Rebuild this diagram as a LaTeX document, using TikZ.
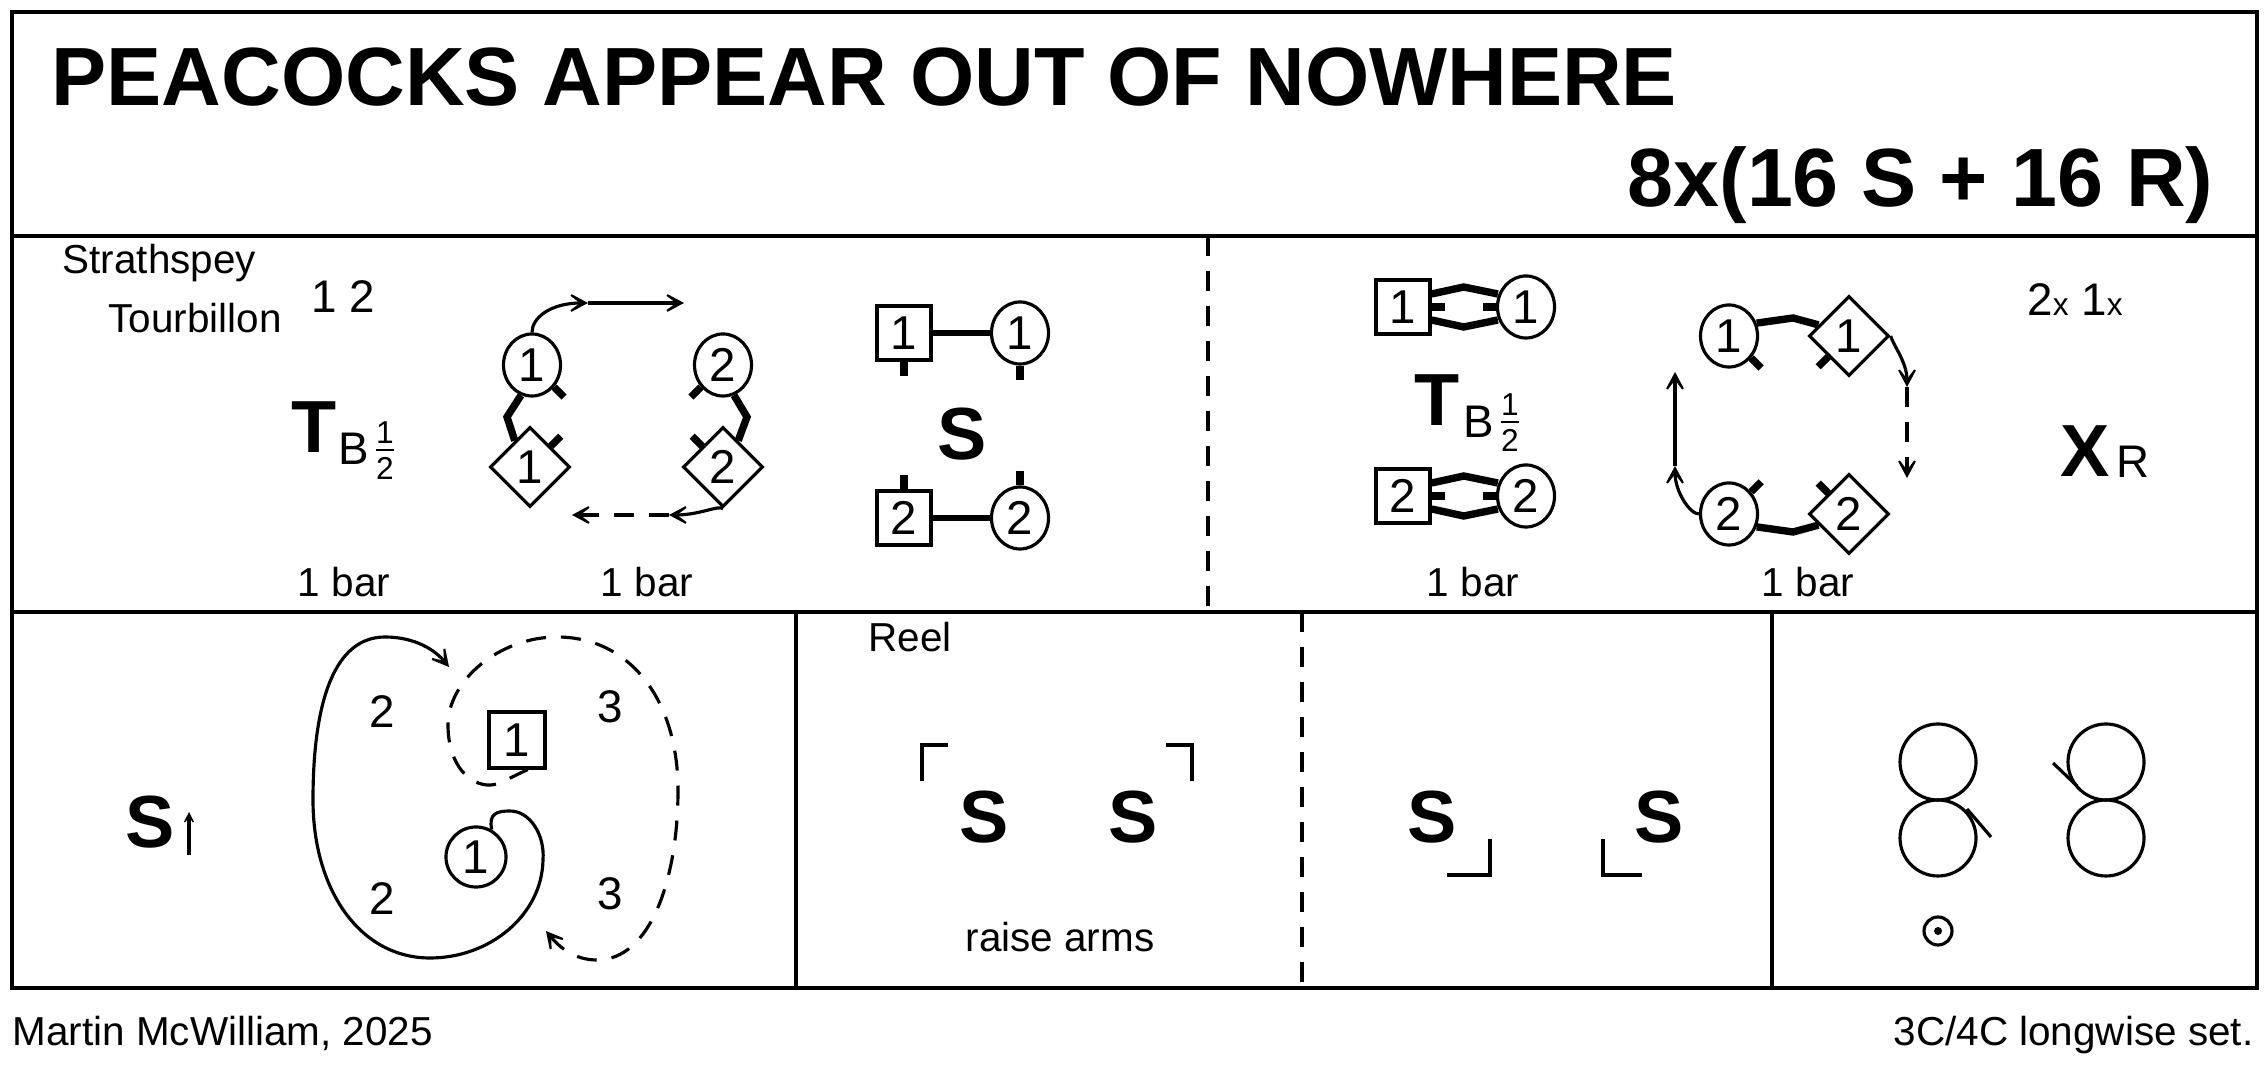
\documentclass[tikz,border=0pt]{standalone}
\usepackage{fontspec}
\setmainfont{Liberation Sans}
\usetikzlibrary{arrows.meta,shapes.geometric,calc}
\begin{document}
\begin{tikzpicture}[x=0.01cm,y=-0.01cm,
  frame/.style={line width=1pt},
  txt/.style={font=\fontsize{11.5}{13}\selectfont, inner sep=0pt},
  big/.style={font=\fontsize{21}{21}\selectfont\bfseries, inner sep=0pt},
  num/.style={font=\fontsize{13}{13}\selectfont, inner sep=0pt},
  frac/.style={font=\fontsize{9}{9}\selectfont, inner sep=0pt},
  dc/.style={ellipse, draw, line width=0.9pt, minimum width=5.7mm, minimum height=6.2mm, inner sep=0pt, font=\fontsize{13.5}{13.5}\selectfont},
  ds/.style={rectangle, draw, line width=0.9pt, minimum size=5.4mm, inner sep=0pt, font=\fontsize{13.5}{13.5}\selectfont},
  dd/.style={diamond, draw, line width=0.9pt, minimum size=8mm, inner sep=0pt, font=\fontsize{13.5}{13.5}\selectfont},
  conn/.style={line width=0.9pt},
  arr/.style={conn, -{Stealth[length=2.8mm,width=3mm,inset=2mm]}},
  hand/.style={line width=2.1pt},
  tick/.style={line width=2.1pt},
  dsh/.style={dash pattern=on 2mm off 1.5mm}
]
\useasboundingbox (0,0) rectangle (2267,1071);
% frame
\draw[frame] (12,12) rectangle (2257,988);
\draw[frame] (12,236) -- (2257,236);
\draw[frame] (12,612) -- (2257,612);
\draw[frame,dsh] (1208,236) -- (1208,612);
\draw[frame] (796,612) -- (796,988);
\draw[frame,dsh] (1302,612) -- (1302,988);
\draw[frame] (1772,612) -- (1772,988);
% title
\node[anchor=base west, inner sep=0pt, font=\fontsize{23.5}{24}\selectfont\bfseries] (title) at (51,106) {PEACOCKS APPEAR OUT OF NOWHERE};
\node[anchor=base east, inner sep=0pt, font=\fontsize{23.5}{24}\selectfont\bfseries] (form) at (2214,207) {8x(16 S + 16 R)};
\node[txt, anchor=base west] (auth) at (12,1045) {Martin McWilliam, 2025};
\node[txt, anchor=base east] (set) at (2254,1045) {3C/4C longwise set.};
% top left panel
\node[txt, anchor=west] (strath) at (62,263) {Strathspey};
\node[txt, anchor=west] (tourb) at (108,318) {Tourbillon};
\node[num] (ot) at (343,297) {1 2};
\node[big] (T1) at (314,427) {T};
\node[num] (B1) at (354,449) {B};
\node[frac] (f1a) at (385,433) {1};
\node[frac] (f1b) at (385,468) {2};
\draw[line width=0.6pt] (376,450) -- (394,450);
\node[txt] (bar1) at (344,582) {1 bar};
% diagram 2
\node[dc] (c1) at (532,365) {1};
\node[dc] (c2) at (723,365) {2};
\node[dd] (d1) at (530,467) {1};
\node[dd] (d2) at (723,467) {2};
\draw[hand] (c1.250) -- (507,417) -- (d1.120);
\draw[hand] (c2.290) -- (747,417) -- (d2.60);
\draw[tick] (c1.-45) -- ++(10,10);
\draw[tick] (d1.45) -- ++(10,-10);
\draw[tick] (c2.225) -- ++(-10,10);
\draw[tick] (d2.135) -- ++(-10,-10);
\coordinate (a1) at (588,303);
\coordinate (a2) at (684,303);
\draw[arr] (c1.north) .. controls (532,318) and (550,303) .. (a1);
\draw[arr] (a1) -- (a2);
\coordinate (b1) at (669,515);
\coordinate (b2) at (572,515);
\draw[arr] (d2.south) .. controls (718,505) and (700,515) .. (b1);
\draw[arr,dsh] (b1) -- (b2);
\node[txt] (bar2) at (647,582) {1 bar};
% diagram 3
\node[ds] (s1) at (904,333) {1};
\node[dc] (e1s) at (1020,333) {1};
\node[big] (S1) at (962,434) {S};
\node[ds] (s2) at (904,518) {2};
\node[dc] (e2s) at (1020,518) {2};
\draw[line width=1.7pt] (s1.east) -- (e1s.west);
\draw[line width=1.7pt] (s2.east) -- (e2s.west);
\draw[tick] (s1.south) -- ++(0,14);
\draw[tick] (e1s.south) -- ++(0,14);
\draw[tick] (s2.north) -- ++(0,-14);
\draw[tick] (e2s.north) -- ++(0,-14);
% top right panel
\node[ds] (sA) at (1403,307) {1};
\node[dc] (cA) at (1526,307) {1};
\node[ds] (sB) at (1403,496) {2};
\node[dc] (cB) at (1526,496) {2};
\foreach \s/\c in {sA/cA,sB/cB}{
  \draw[hand] ($(\s.east)+(0,-13)$) -- ($(\s.east)!0.5!(\c.west)+(0,-20)$) -- ($(\c.west)+(2,-13)$);
  \draw[hand] ($(\s.east)+(0,13)$) -- ($(\s.east)!0.5!(\c.west)+(0,20)$) -- ($(\c.west)+(2,13)$);
  \draw[hand] (\s.east) -- ++(13,0);
  \draw[hand] (\c.west) -- ++(-13,0);
}
\node[big] (T2) at (1437,400) {T};
\node[num] (B2) at (1479,422) {B};
\node[frac] (f2a) at (1510,405) {1};
\node[frac] (f2b) at (1510,440) {2};
\draw[line width=0.6pt] (1501,422) -- (1519,422);
\node[txt] (bar3) at (1473,582) {1 bar};
% diagram right
\node[dc] (g1) at (1729,336) {1};
\node[dd] (h1) at (1849,336) {1};
\node[dc] (g2) at (1729,514) {2};
\node[dd] (h2) at (1849,514) {2};
\draw[hand] (g1.25) -- (1793,318) -- (h1.160);
\draw[hand] (g2.-25) -- (1793,532) -- (h2.-160);
\draw[tick] (g1.-45) -- ++(10,10);
\draw[tick] (h1.225) -- ++(-10,10);
\draw[tick] (g2.45) -- ++(10,-10);
\draw[tick] (h2.135) -- ++(-10,-10);
\coordinate (r1) at (1907,387);
\coordinate (r2) at (1907,478);
\draw[arr] (h1.east) .. controls (1893,345) and (1907,362) .. (r1);
\draw[arr,dsh] (r1) -- (r2);
\coordinate (l1) at (1675,466);
\coordinate (l2) at (1675,372);
\draw[arr] (g2.west) .. controls (1690,514) and (1675,492) .. (l1);
\draw[arr] (l1) -- (l2);
\node[txt] (bar4) at (1808,582) {1 bar};
\node[num] (xx) at (2075,300) {2{\fontsize{9}{9}\selectfont x} 1{\fontsize{9}{9}\selectfont x}};
\node[big] (X) at (2085,451) {X};
\node[num] (R) at (2133,462) {R};
% bottom panel 1
\node[big] (S2) at (150,822) {S};
\coordinate (u1) at (189,855);
\coordinate (u2) at (189,812);
\draw[conn,-{Stealth[length=1.7mm,width=1.7mm,inset=1.2mm]}] (u1) -- (u2);
\node[num] (n2a) at (382,712) {2};
\node[num] (n2b) at (382,899) {2};
\node[num] (n3a) at (610,707) {3};
\node[num] (n3b) at (610,894) {3};
\node[ds, minimum size=5.6mm] (sq) at (517,740) {1};
\node[dc, minimum width=6mm, minimum height=6mm] (cc) at (476,857) {1};
\draw[arr] (cc.60) .. controls (488,813) and (498,811) .. (510,811)
  .. controls (530,811) and (545,835) .. (543,860)
  .. controls (542,915) and (490,958) .. (430,958)
  .. controls (360,958) and (313,890) .. (313,800)
  .. controls (313,700) and (335,637) .. (385,637)
  .. controls (415,637) and (435,650) .. (449,667);
\draw[arr,dsh] (sq.-70) .. controls (505,780) and (497,786) .. (487,785)
  .. controls (465,783) and (448,760) .. (448,725)
  .. controls (448,680) and (500,637) .. (557,637)
  .. controls (630,637) and (678,700) .. (678,790)
  .. controls (678,880) and (650,960) .. (597,960)
  .. controls (575,960) and (560,948) .. (546,931);
% bottom panel 2
\node[txt, anchor=west] (reel) at (868,637) {Reel};
\node[big] (S3) at (984,817) {S};
\node[big] (S4) at (1133,817) {S};
\draw[conn] (922,781) -- (922,745) -- (948,745);
\draw[conn] (1166,745) -- (1192,745) -- (1192,781);
\node[txt] (raise) at (1060,937) {raise arms};
% bottom panel 3
\node[big] (S5) at (1432,817) {S};
\node[big] (S6) at (1659,817) {S};
\draw[conn] (1447,875) -- (1490,875) -- (1490,839);
\draw[conn] (1603,839) -- (1603,875) -- (1642,875);
% bottom panel 4
\draw[conn] (1938,762) circle (38);
\draw[conn] (1938,838) circle (38);
\draw[conn] (1967,809) -- (1991,837);
\draw[conn] (2106,762) circle (38);
\draw[conn] (2106,838) circle (38);
\draw[conn] (2053,763) -- (2077,786);
\draw[conn] (1938,931) circle (14);
\fill (1938,931) circle (4);
\end{tikzpicture}
\end{document}
